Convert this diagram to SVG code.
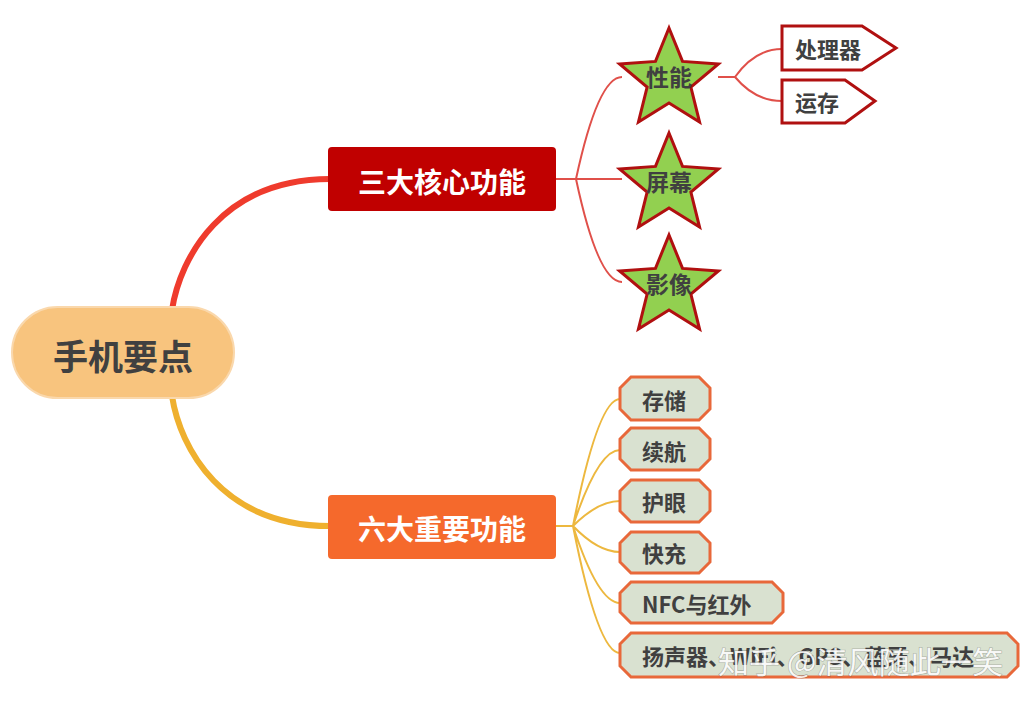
<svg xmlns="http://www.w3.org/2000/svg" width="1030" height="706" viewBox="0 0 1030 706">
<style>
text{font-family:"Noto Sans CJK SC","Noto Sans",sans-serif;font-weight:bold;fill:#404040;dominant-baseline:central}
.main{stroke-width:6;fill:none;stroke-linecap:round}
.red{stroke:#E0504A;stroke-width:2;fill:none}
.yel{stroke:#EDB83F;stroke-width:2;fill:none}
.star{fill:#92D050;stroke:#B01010;stroke-width:3;stroke-linejoin:miter}
.oct{fill:#D9E1D0;stroke:#E8683A;stroke-width:3}
.tag{fill:#FFFFFF;stroke:#B01010;stroke-width:3}
.st{font-size:23px}
.sub{font-size:22px}
.wm{font-family:"Noto Sans CJK SC",sans-serif;font-weight:normal;font-size:30px;fill:#FFFFFF;fill-opacity:0.9;stroke:#555;stroke-opacity:0.35;stroke-width:1.2;paint-order:stroke}
</style>
<defs>
<path id="star" d="M0,-52 L13.52,-18.61 L49.45,-16.07 L21.87,7.11 L30.56,42.07 L0,23 L-30.56,42.07 L-21.87,7.11 L-49.45,-16.07 L-13.52,-18.61 Z"/>
</defs>
<rect width="1030" height="706" fill="#FFFFFF"/>
<g id="connectors">
<path class="main" stroke="#EF3B2D" d="M172,310 C180,258 222,179 330,179"/>
<path class="main" stroke="#EFB02E" d="M172,396 C180,448 222,526 330,526"/>
<path class="red" d="M556,179 H576 M576,179 Q598,77 622,77 M576,179 H622 M576,179 Q598,282 622,282"/>
<path class="red" d="M718,77 H735 Q755,49 782,49 M735,77 Q755,101 782,101"/>
<path class="yel" d="M556,526 H573 M573,526 Q598,399 620,399 M573,526 Q598,450 620,450 M573,526 Q598,501 620,501 M573,526 Q598,552 620,552 M573,526 Q598,603 620,603 M573,526 Q598,653 620,653"/>
</g>
<g id="root">
<rect x="12" y="307" width="222" height="91" rx="45.5" fill="#F8C47E" stroke="#FAD8AC" stroke-width="2"/>
<text x="123" y="354" font-size="35" text-anchor="middle">手机要点</text>
</g>
<g id="branch-core">
<rect x="328" y="147" width="228" height="64" rx="4" fill="#C00000"/>
<text x="442" y="181" font-size="28" text-anchor="middle" style="fill:#FFFFFF">三大核心功能</text>
</g>
<g id="branch-important">
<rect x="328" y="495" width="228" height="64" rx="4" fill="#F5692C"/>
<text x="442" y="528" font-size="28" text-anchor="middle" style="fill:#FFFFFF">六大重要功能</text>
</g>
<g id="star-perf">
<use href="#star" x="669" y="80" class="star"/>
<text class="st" x="669" y="76" text-anchor="middle">性能</text>
</g>
<g id="star-screen">
<use href="#star" x="669" y="185" class="star"/>
<text class="st" x="669" y="181" text-anchor="middle">屏幕</text>
</g>
<g id="star-image">
<use href="#star" x="669" y="287" class="star"/>
<text class="st" x="669" y="283" text-anchor="middle">影像</text>
</g>
<g id="cpu">
<polygon class="tag" points="782,26 862,26 896,48 862,70 782,70"/>
<text class="sub" x="795" y="48">处理器</text>
</g>
<g id="ram">
<polygon class="tag" points="782,80 845,80 875,101 845,123 782,123"/>
<text class="sub" x="795" y="101">运存</text>
</g>
<g id="storage">
<polygon class="oct" points="631,377 699,377 710,388 710,409 699,420 631,420 620,409 620,388"/>
<text class="sub" x="642" y="399">存储</text>
</g>
<g id="battery">
<polygon class="oct" points="631,428 699,428 710,439 710,459 699,470 631,470 620,459 620,439"/>
<text class="sub" x="642" y="450">续航</text>
</g>
<g id="eye">
<polygon class="oct" points="631,480 699,480 710,491 710,511 699,522 631,522 620,511 620,491"/>
<text class="sub" x="642" y="501">护眼</text>
</g>
<g id="charge">
<polygon class="oct" points="631,532 699,532 710,543 710,562 699,573 631,573 620,562 620,543"/>
<text class="sub" x="642" y="552">快充</text>
</g>
<g id="nfc">
<polygon class="oct" points="631,582 772,582 783,593 783,612 772,623 631,623 620,612 620,593"/>
<text class="sub" x="642" y="603">NFC与红外</text>
</g>
<g id="misc">
<polygon class="oct" points="631,633 1007,633 1018,644 1018,666 1007,677 631,677 620,666 620,644"/>
<text class="sub" x="642" y="655">扬声器、WiFi、GPS、蓝牙、马达</text>
</g>
<text class="wm" x="718" y="660" textLength="285" lengthAdjust="spacingAndGlyphs">知乎 @清风随此一笑</text>
</svg>
